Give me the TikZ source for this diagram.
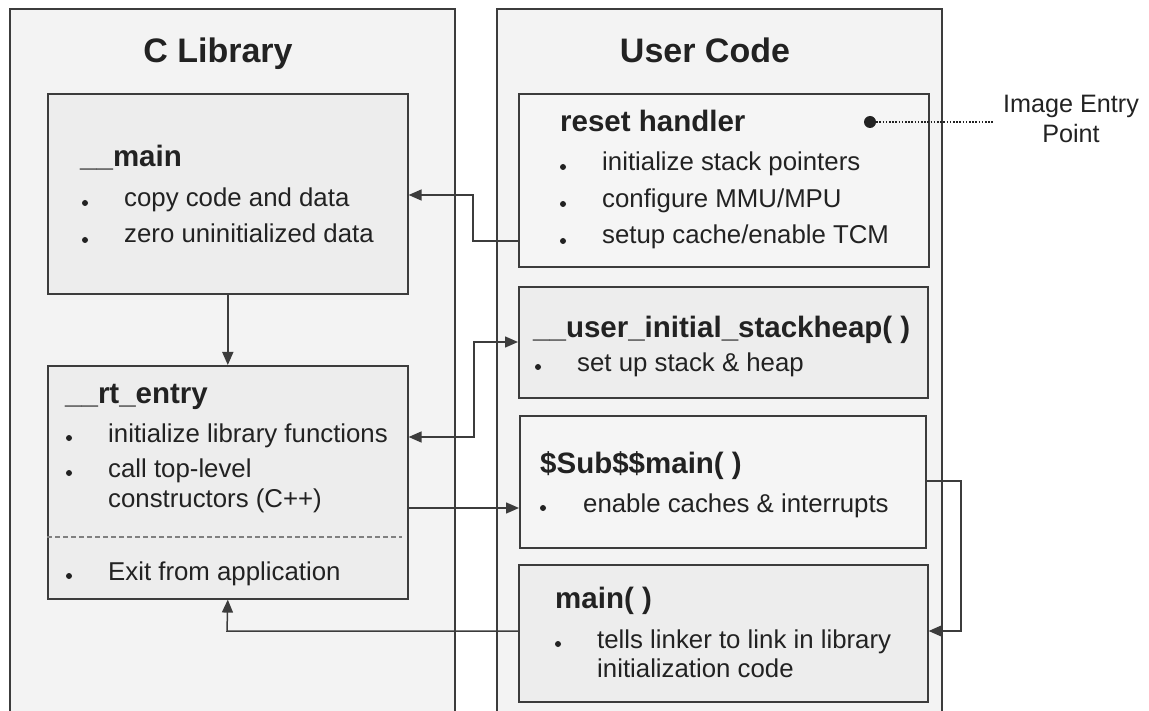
\documentclass[tikz,border=0pt]{standalone}
\usepackage{fontspec}
\setmainfont{Liberation Sans}
\usetikzlibrary{arrows.meta}
\definecolor{panelbg}{HTML}{F3F3F3}
\definecolor{boxbg}{HTML}{EDEDED}
\definecolor{boxbgl}{HTML}{F5F5F5}
\definecolor{linec}{HTML}{3C3C3C}
\definecolor{txt}{HTML}{222222}
\tikzset{
  fbox/.style={draw=linec, line width=1.6pt, fill=boxbg, inner sep=0pt, anchor=north west},
  ttl/.style={font=\fontsize{34}{40}\selectfont\bfseries, text=txt, anchor=base, inner sep=0pt},
  hd/.style={font=\fontsize{29.5}{34}\selectfont\bfseries, text=txt, anchor=base west, inner sep=0pt},
  bd/.style={font=\fontsize{25.8}{30}\selectfont, text=txt, anchor=base west, inner sep=0pt},
  lbl/.style={font=\fontsize{25.2}{30}\selectfont, text=txt, anchor=base, inner sep=0pt},
  bul/.style={circle, fill=txt, inner sep=0pt, minimum size=6pt},
  conn/.style={draw=linec, line width=1.5pt},
  arr/.style={conn, -{Triangle[length=13pt,width=11pt]}},
  arrb/.style={conn, {Triangle[length=13pt,width=11pt]}-{Triangle[length=13pt,width=11pt]}},
}
\begin{document}
\begin{tikzpicture}[x=1pt,y=-1pt]
\useasboundingbox (0,0) rectangle (1149,711);
\begin{scope}
\clip (0,0) rectangle (1149,711);
% panels
\fill[panelbg] (10,9) rectangle (455,720);
\draw[conn, line width=1.6pt] (10,720) -- (10,9) -- (455,9) -- (455,720);
\fill[panelbg] (497,9) rectangle (942,720);
\draw[conn, line width=1.6pt] (497,720) -- (497,9) -- (942,9) -- (942,720);
\end{scope}
\node[ttl] (tlib) at (218,63) {C Library};
\node[ttl] (tuser) at (705,63) {User Code};

% C library boxes
\node[fbox, minimum width=360pt, minimum height=200pt] (mainfn) at (47,93) {};
\node[fbox, minimum width=360pt, minimum height=233pt] (rt) at (47,365) {};

% user code boxes
\node[fbox, fill=boxbgl, minimum width=410pt, minimum height=173pt] (reset) at (518,93) {};
\node[fbox, minimum width=409pt, minimum height=111pt] (ui) at (518,286) {};
\node[fbox, fill=boxbgl, minimum width=406pt, minimum height=132pt] (sub) at (519,415) {};
\node[fbox, minimum width=409pt, minimum height=137pt] (mu) at (518,564) {};

% __main text
\node[hd] (hmain) at (80,167) {\_\_main};
\node[bul] (bm1) at (85,203) {};
\node[bd] (tm1) at (124,207) {copy code and data};
\node[bul] (bm2) at (85,240) {};
\node[bd] (tm2) at (124,243) {zero uninitialized data};

% __rt_entry text
\node[hd] (hrt) at (65,403) {\_\_rt\_entry};
\node[bul] (br1) at (69,438) {};
\node[bd] (tr1) at (108,442) {initialize library functions};
\node[bul] (br2) at (69,473) {};
\node[bd] (tr2) at (108,477) {call top-level};
\node[bd] (tr3) at (108,507) {constructors (C++)};
\node[bul] (br3) at (69,576) {};
\node[bd] (tr4) at (108,580) {Exit from application};
\coordinate (dl) at (402,537);
\draw[draw=gray, line width=1.2pt, dash pattern=on 5pt off 3pt] (rt.west |- dl) -- (dl);

% reset handler text
\node[hd] (hreset) at (560,132) {reset handler};
\node[bul] (bs1) at (563,167) {};
\node[bd] (ts1) at (602,171) {initialize stack pointers};
\node[bul] (bs2) at (563,204) {};
\node[bd] (ts2) at (602,208) {configure MMU/MPU};
\node[bul] (bs3) at (563,241) {};
\node[bd] (ts3) at (602,244) {setup cache/enable TCM};

% user_initial_stackheap
\node[hd] (hui) at (533,338) {\_\_user\_initial\_stackheap( )};
\node[bul] (bu1) at (538,367) {};
\node[bd] (tu1) at (577,371) {set up stack \& heap};

% $Sub$$main
\node[hd] (hsub) at (540,473) {\$Sub\$\$main( )};
\node[bul] (bb1) at (543,508) {};
\node[bd] (tb1) at (583,512) {enable caches \& interrupts};

% main()
\node[hd] (hmu) at (555,608) {main( )};
\node[bul] (bmu1) at (558,644) {};
\node[bd] (tmu1) at (597,648) {tells linker to link in library};
\node[bd] (tmu2) at (597,677) {initialization code};

% image entry point
\node[circle, fill=txt, minimum size=12pt, inner sep=0pt] (dot) at (870,122) {};
\coordinate (dend) at (993,122);
\draw[draw=txt, line width=2.2pt, dash pattern=on 1.6pt off 1.6pt] (dot) -- (dend);
\node[lbl] (iep1) at (1071,113) {Image Entry};
\node[lbl] (iep2) at (1071,143) {Point};

% connectors
\coordinate (r1) at (473,241);
\coordinate (r2) at (473,195);
\draw[arr] (reset.west |- r1) -- (r1) -- (r2) -- (mainfn.east |- r2);

\draw[arr] (mainfn.south) -- (rt.north);

\coordinate (u1) at (474,437);
\coordinate (u2) at (474,342);
\draw[arrb] (rt.east |- u1) -- (u1) -- (u2) -- (ui.west |- u2);

\coordinate (s1) at (0,508);
\draw[arr] (rt.east |- s1) -- (sub.west |- s1);

\coordinate (m1) at (961,481);
\coordinate (m2) at (961,631);
\draw[arr] (sub.east |- m1) -- (m1) -- (m2) -- (mu.east |- m2);

\coordinate (e1) at (227,631);
\draw[arr] (mu.west |- e1) -- (e1) -- (rt.south);
\end{tikzpicture}
\end{document}
